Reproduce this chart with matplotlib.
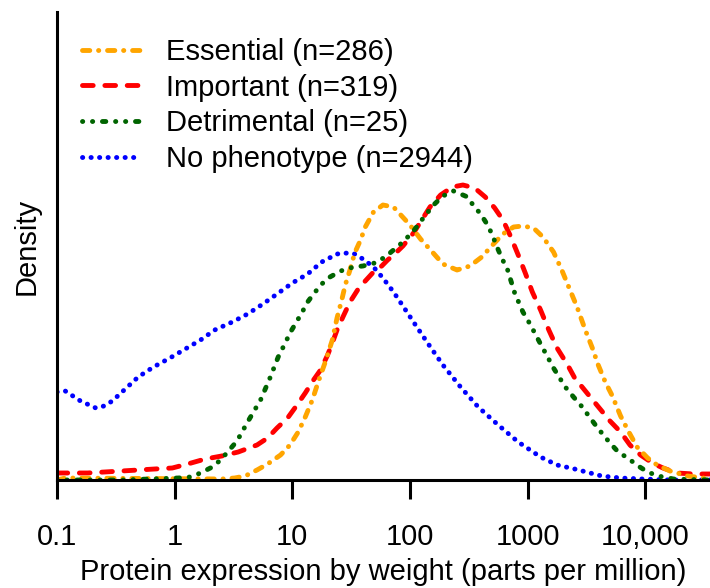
import numpy as np
from matplotlib import pyplot as plt

plt.rcParams['font.family'] = ['Liberation Sans', 'DejaVu Sans']

# log10 of protein expression (ppm) and kernel density
ess_log = [-1.00, -0.93, 0.40, 0.51, 0.60, 0.70, 0.79, 0.90, 0.98, 1.05, 1.11, 1.17, 1.22, 1.28,
	1.34, 1.38, 1.42, 1.45, 1.49, 1.53, 1.58, 1.62, 1.69, 1.77, 1.86, 1.93, 2.00, 2.09, 2.19,
	2.28, 2.40, 2.51, 2.61, 2.71, 2.79, 2.88, 2.96, 3.05, 3.13, 3.22, 3.29, 3.36, 3.42, 3.49,
	3.55, 3.60, 3.66, 3.72, 3.79, 3.86, 3.93, 4.02, 4.10, 4.21, 4.36, 4.49, 4.55]
ess_dens = [0.000, 0.004, 0.002, 0.004, 0.008, 0.020, 0.032, 0.050, 0.070, 0.096, 0.126, 0.160,
	0.196, 0.236, 0.280, 0.324, 0.360, 0.390, 0.420, 0.454, 0.480, 0.506, 0.536, 0.550, 0.546,
	0.528, 0.510, 0.482, 0.456, 0.432, 0.420, 0.428, 0.446, 0.472, 0.492, 0.506, 0.508, 0.504,
	0.486, 0.456, 0.420, 0.380, 0.346, 0.300, 0.264, 0.230, 0.196, 0.168, 0.128, 0.096, 0.066,
	0.044, 0.030, 0.018, 0.008, 0.004, 0.002]

imp_log = [-1.00, -0.74, -0.45, -0.17, -0.02, 0.11, 0.26, 0.40, 0.54, 0.70, 0.79, 0.87, 0.96,
	1.04, 1.11, 1.18, 1.24, 1.30, 1.34, 1.38, 1.43, 1.49, 1.56, 1.62, 1.69, 1.76, 1.81, 1.87,
	1.94, 2.03, 2.10, 2.17, 2.26, 2.36, 2.45, 2.55, 2.64, 2.72, 2.79, 2.85, 2.92, 2.98, 3.04,
	3.11, 3.18, 3.25, 3.34, 3.40, 3.47, 3.56, 3.63, 3.70, 3.79, 3.87, 3.96, 4.06, 4.15, 4.27,
	4.41, 4.55]
imp_dens = [0.014, 0.014, 0.018, 0.022, 0.024, 0.032, 0.042, 0.048, 0.056, 0.070, 0.084, 0.104,
	0.124, 0.150, 0.174, 0.200, 0.220, 0.250, 0.274, 0.300, 0.326, 0.356, 0.382, 0.398, 0.416,
	0.428, 0.440, 0.452, 0.468, 0.494, 0.520, 0.546, 0.570, 0.586, 0.590, 0.584, 0.566, 0.544,
	0.520, 0.490, 0.450, 0.414, 0.376, 0.340, 0.300, 0.264, 0.230, 0.204, 0.184, 0.158, 0.138,
	0.118, 0.096, 0.070, 0.050, 0.034, 0.024, 0.014, 0.012, 0.012]

det_log = [-1.00, -0.45, 0.03, 0.13, 0.22, 0.32, 0.39, 0.45, 0.53, 0.62, 0.73, 0.81, 0.88, 0.94,
	0.98, 1.02, 1.08, 1.13, 1.18, 1.25, 1.32, 1.41, 1.52, 1.60, 1.70, 1.79, 1.87, 1.94, 2.03,
	2.10, 2.20, 2.28, 2.37, 2.49, 2.53, 2.60, 2.66, 2.70, 2.74, 2.78, 2.83, 2.89, 2.96, 3.02,
	3.11, 3.17, 3.22, 3.32, 3.39, 3.45, 3.52, 3.57, 3.63, 3.70, 3.77, 3.85, 3.94, 4.02, 4.11,
	4.24, 4.55]
det_dens = [0.000, 0.000, 0.004, 0.006, 0.014, 0.026, 0.040, 0.056, 0.078, 0.116, 0.160, 0.204,
	0.246, 0.274, 0.294, 0.310, 0.334, 0.356, 0.372, 0.392, 0.406, 0.418, 0.426, 0.428, 0.434,
	0.446, 0.462, 0.476, 0.498, 0.520, 0.550, 0.568, 0.578, 0.566, 0.552, 0.532, 0.510, 0.490,
	0.466, 0.444, 0.420, 0.374, 0.336, 0.312, 0.272, 0.246, 0.224, 0.186, 0.166, 0.150, 0.128,
	0.112, 0.094, 0.074, 0.056, 0.044, 0.028, 0.016, 0.008, 0.002, 0.000]

nop_log = [-1.00, -0.93, -0.80, -0.67, -0.60, -0.53, -0.42, -0.31, -0.18, -0.04, 0.09, 0.22,
	0.34, 0.49, 0.62, 0.75, 0.87, 1.00, 1.13, 1.25, 1.38, 1.47, 1.53, 1.60, 1.69, 1.77, 1.86,
	1.94, 2.03, 2.15, 2.28, 2.43, 2.58, 2.75, 2.92, 3.11, 3.25, 3.40, 3.63, 3.79, 3.98, 4.21,
	4.55]
nop_dens = [0.176, 0.178, 0.158, 0.144, 0.148, 0.158, 0.182, 0.206, 0.226, 0.244, 0.262, 0.280,
	0.300, 0.316, 0.332, 0.352, 0.372, 0.394, 0.412, 0.436, 0.452, 0.454, 0.452, 0.442, 0.426,
	0.404, 0.376, 0.348, 0.316, 0.274, 0.230, 0.186, 0.146, 0.110, 0.076, 0.046, 0.030, 0.022,
	0.008, 0.004, 0.002, 0.000, 0.000]

labels = ['Essential (n=286)', 'Important (n=319)', 'Detrimental (n=25)', 'No phenotype (n=2944)']
tick_vals = [0.1, 1, 10, 100, 1000, 10000]
tick_labels = ['0.1', '1', '10', '100', '1000', '10,000']

fig = plt.figure(figsize=(7.1, 5.88), dpi=100)
ax = fig.add_axes([57 / 710, 108 / 588, 653 / 710, 468 / 588])

kw = dict(lw=3.5, dash_capstyle='round', solid_capstyle='round')
h_nop, = ax.plot(10 ** np.array(nop_log), nop_dens, color='blue', ls=(0, (0.05, 1.7)), **kw)
h_imp, = ax.plot(10 ** np.array(imp_log), imp_dens, color='red', ls=(0, (2.2, 2.4)), **kw)
h_ess, = ax.plot(10 ** np.array(ess_log), ess_dens, color='orange',
	ls=(0, (1.5, 1.8, 0.05, 1.8)), **kw)
h_det, = ax.plot(10 ** np.array(det_log), det_dens, color='darkgreen',
	ls=(0, (0.05, 2.0, 0.05, 2.0, 0.7, 2.0)), **kw)

ax.set_xscale('log')
ax.set_xlim(0.1, 10 ** 4.55)
ax.set_ylim(0, 0.936)
ax.set_xticks(tick_vals)
ax.set_xticklabels(tick_labels)
ax.xaxis.set_minor_locator(plt.NullLocator())
ax.set_yticks([])
ax.tick_params(axis='x', length=14, width=2.2, pad=17, labelsize=21)

for s in ['top', 'right']:
	ax.spines[s].set_visible(False)
for s in ['left', 'bottom']:
	ax.spines[s].set_linewidth(2.2)

ax.set_xlabel('Protein expression by weight (parts per million)', fontsize=21, labelpad=5)
ax.set_ylabel('Density', fontsize=21, labelpad=12)

ax.legend([h_ess, h_imp, h_det, h_nop], labels, loc='upper left', frameon=False,
	fontsize=21, handlelength=2.0, handletextpad=0.9, labelspacing=0.27,
	borderpad=0, borderaxespad=0, bbox_to_anchor=(0.038, 0.945))

fig.savefig('out.png', dpi=100)
